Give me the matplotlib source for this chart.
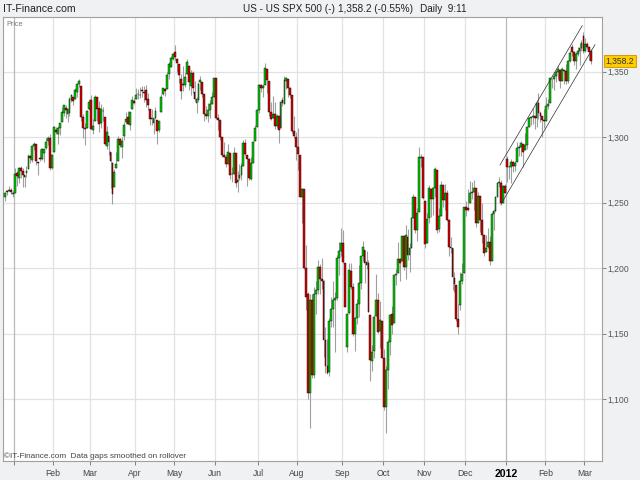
import matplotlib
matplotlib.use("Agg")
import matplotlib.pyplot as plt
import matplotlib.transforms as mtransforms
import numpy as np
import pandas as pd

# ---------------- data ----------------
holidays = ["2011-01-17", "2011-02-21", "2011-04-22", "2011-05-30", "2011-07-04",
            "2011-09-05", "2011-11-24", "2011-12-26", "2012-01-02", "2012-01-16",
            "2012-02-20"]
start_date = "2010-12-27"
end_date = "2012-03-06"

opens = [
    1254.7, 1259.1, 1258.8, 1259.4, 1256.8,
    1257.6, 1272.9, 1268.8, 1276.3, 1274.4, 1270.8, 1272.6, 1275.7, 1285.8, 1282.9, 1293.2, 1294.5, 1280.9, 1283.6, 1283.3, 1288.2, 1291.9, 1297.5, 1299.6, 1276.5,
    1289.1, 1305.9, 1302.8, 1307.0, 1311.9, 1318.8, 1322.5, 1318.1, 1318.7, 1328.7, 1330.4, 1329.5, 1334.4, 1340.4, 1338.9, 1315.4, 1307.1, 1307.3, 1321.6,
    1328.6, 1305.5, 1312.4, 1330.7, 1322.7, 1311.1, 1319.9, 1315.7, 1293.4, 1301.2, 1288.5, 1280.0, 1262.0, 1276.7, 1281.7, 1298.3, 1292.2, 1300.6, 1311.8, 1315.5, 1309.4, 1321.9, 1327.4,
    1329.5, 1332.7, 1332.0, 1335.9, 1334.8, 1336.2, 1329.0, 1321.9, 1314.0, 1311.1, 1314.5, 1313.3, 1305.4, 1319.1, 1333.2, 1337.1, 1336.8, 1348.4, 1353.9, 1360.1,
    1365.2, 1359.8, 1355.9, 1344.2, 1340.2, 1340.2, 1348.3, 1354.5, 1339.4, 1348.7, 1334.8, 1326.1, 1328.5, 1342.4, 1342.0, 1333.1, 1317.7, 1316.4, 1320.6, 1325.7, 1331.1,
    1345.2, 1314.6, 1312.9, 1300.3, 1286.3, 1284.6, 1279.6, 1288.3, 1271.6, 1272.2, 1287.9, 1265.5, 1268.6, 1271.5, 1278.4, 1295.5, 1286.6, 1283.0, 1268.4, 1280.2, 1296.9, 1307.6,
    1320.6, 1339.6, 1337.6, 1339.6, 1352.4, 1343.3, 1319.6, 1314.5, 1317.7, 1308.9, 1315.9, 1307.1, 1328.7, 1325.7, 1343.3, 1344.3, 1337.4, 1331.9, 1304.8, 1300.1,
    1292.6, 1286.6, 1254.3, 1260.2, 1200.3, 1180.0, 1104.5, 1176.0, 1118.5, 1180.0, 1183.0, 1201.0, 1192.0, 1190.0, 1145.0, 1125.0, 1121.0, 1160.0, 1169.0, 1176.0, 1177.0, 1208.0, 1213.0,
    1219.0, 1204.0, 1140.0, 1166.0, 1198.0, 1186.0, 1150.0, 1162.0, 1173.0, 1189.0, 1209.0, 1214.0, 1204.5, 1203.6, 1164.6, 1128.8, 1136.9, 1163.3, 1175.4, 1151.7, 1159.9,
    1131.2, 1094.0, 1122.0, 1144.0, 1165.0, 1158.0, 1194.6, 1196.2, 1206.9, 1205.7, 1224.5, 1200.8, 1223.5, 1209.9, 1215.4, 1238.7, 1254.2, 1229.2, 1243.0, 1284.4, 1284.9,
    1251.0, 1219.6, 1238.3, 1260.8, 1253.2, 1261.1, 1275.2, 1229.6, 1240.1, 1263.9, 1251.7, 1257.8, 1236.6, 1216.2, 1215.6, 1192.8, 1187.5, 1161.0, 1172.0, 1190.0, 1196.7,
    1246.9, 1246.0, 1249.8, 1257.2, 1258.1, 1260.9, 1234.5, 1255.1, 1236.8, 1225.7, 1212.1, 1216.1, 1219.7, 1205.7, 1241.3, 1243.7, 1254.0, 1265.0, 1265.4, 1249.8, 1262.8,
    1283.5, 1277.0, 1277.3, 1280.9, 1277.8, 1280.8, 1292.0, 1292.5, 1294.8, 1290.2, 1293.7, 1308.1, 1314.5, 1315.3, 1315.9, 1314.4, 1326.3, 1318.4, 1316.2, 1313.5,
    1312.5, 1324.2, 1326.2, 1344.3, 1344.3, 1347.0, 1350.0, 1351.2, 1343.1, 1351.3, 1350.5, 1342.6, 1358.1, 1369.0, 1365.0, 1358.0, 1363.5, 1366.0, 1368.0, 1377.0,
    1366.0, 1371.0, 1369.0, 1366.0,
]
highs = [
    1258.4, 1259.9, 1262.6, 1261.1, 1259.3,
    1276.2, 1274.1, 1277.6, 1278.2, 1276.8, 1271.5, 1277.8, 1286.9, 1286.7, 1293.2, 1296.1, 1294.6, 1281.0, 1291.2, 1291.9, 1291.3, 1299.7, 1301.3, 1302.7, 1287.2,
    1308.9, 1307.6, 1308.6, 1311.0, 1322.9, 1324.9, 1324.6, 1322.0, 1330.8, 1332.9, 1330.4, 1337.6, 1341.5, 1344.1, 1338.9, 1317.9, 1310.9, 1320.6, 1329.4,
    1332.1, 1314.2, 1332.3, 1331.1, 1327.7, 1325.7, 1323.2, 1315.7, 1308.4, 1301.2, 1288.5, 1280.9, 1276.1, 1288.9, 1300.6, 1299.4, 1300.5, 1311.3, 1319.2, 1319.7, 1319.5, 1331.7, 1329.8,
    1337.9, 1336.7, 1338.2, 1339.4, 1338.8, 1339.5, 1333.8, 1321.9, 1321.4, 1315.0, 1322.9, 1313.3, 1312.7, 1332.7, 1337.5, 1337.6, 1349.6, 1357.5, 1361.7, 1364.6,
    1370.6, 1360.8, 1355.9, 1348.0, 1354.4, 1349.4, 1359.4, 1354.5, 1351.1, 1350.5, 1343.3, 1330.4, 1341.8, 1346.8, 1342.0, 1333.1, 1323.7, 1325.9, 1328.5, 1334.6, 1345.2,
    1345.2, 1318.0, 1312.9, 1300.3, 1296.2, 1287.0, 1294.5, 1288.3, 1277.0, 1292.5, 1287.9, 1274.1, 1279.8, 1280.4, 1297.6, 1298.6, 1286.6, 1283.9, 1284.9, 1296.8, 1309.2, 1321.9,
    1341.0, 1340.9, 1340.9, 1356.5, 1352.4, 1343.3, 1327.2, 1331.5, 1326.7, 1317.7, 1315.9, 1328.1, 1330.4, 1347.0, 1346.1, 1344.3, 1338.5, 1331.9, 1316.3, 1304.2,
    1307.4, 1286.6, 1261.2, 1260.2, 1218.1, 1182.0, 1180.0, 1180.0, 1186.0, 1190.0, 1206.0, 1203.0, 1208.0, 1191.0, 1155.0, 1146.0, 1162.0, 1178.0, 1190.0, 1182.0, 1210.0, 1220.0, 1231.0,
    1229.3, 1204.0, 1166.0, 1204.0, 1204.0, 1189.0, 1163.0, 1176.4, 1202.3, 1209.1, 1220.6, 1214.0, 1213.4, 1206.3, 1164.6, 1141.7, 1164.2, 1195.9, 1180.9, 1175.3, 1160.0,
    1138.0, 1125.0, 1146.0, 1165.0, 1171.0, 1195.0, 1199.2, 1220.3, 1207.5, 1224.6, 1224.5, 1233.1, 1229.6, 1219.4, 1239.0, 1256.6, 1254.2, 1246.3, 1292.7, 1287.1, 1284.9,
    1251.0, 1242.5, 1263.2, 1260.8, 1261.7, 1277.6, 1275.2, 1246.2, 1266.9, 1263.9, 1264.3, 1259.6, 1237.7, 1223.5, 1215.6, 1196.8, 1187.5, 1172.7, 1197.4, 1203.7, 1247.1,
    1251.1, 1260.1, 1266.7, 1266.0, 1267.1, 1260.9, 1258.3, 1255.1, 1249.9, 1225.7, 1225.6, 1231.0, 1224.6, 1242.8, 1245.1, 1255.2, 1265.4, 1269.4, 1267.2, 1263.5, 1264.1,
    1285.5, 1278.7, 1283.1, 1281.8, 1281.9, 1296.5, 1293.8, 1296.8, 1294.8, 1303.0, 1308.1, 1315.5, 1315.4, 1322.3, 1315.9, 1328.3, 1333.5, 1320.1, 1316.2, 1321.4,
    1330.5, 1329.2, 1345.3, 1344.4, 1349.2, 1351.0, 1354.3, 1351.2, 1353.4, 1351.3, 1355.9, 1359.0, 1366.0, 1371.0, 1366.0, 1365.0, 1369.0, 1372.0, 1374.0, 1380.0,
    1376.0, 1373.0, 1370.0, 1367.0,
]
lows = [
    1251.5, 1256.2, 1258.8, 1256.3, 1254.2,
    1257.6, 1262.7, 1265.4, 1268.7, 1261.7, 1262.2, 1269.6, 1275.7, 1280.5, 1281.1, 1290.2, 1278.9, 1271.3, 1282.1, 1282.5, 1281.1, 1291.0, 1294.4, 1275.1, 1276.0,
    1289.1, 1302.6, 1294.8, 1301.7, 1311.9, 1316.0, 1314.9, 1311.7, 1316.1, 1326.9, 1324.6, 1329.5, 1331.0, 1338.1, 1312.3, 1299.6, 1294.3, 1307.3, 1320.6,
    1306.1, 1302.6, 1312.4, 1312.6, 1303.9, 1306.9, 1312.3, 1294.2, 1291.0, 1286.4, 1261.1, 1249.1, 1262.0, 1276.2, 1281.7, 1292.7, 1284.1, 1297.7, 1310.2, 1310.2, 1305.3, 1321.9, 1325.0,
    1328.9, 1329.1, 1330.0, 1330.7, 1326.6, 1322.9, 1321.1, 1309.5, 1309.2, 1302.8, 1313.7, 1294.7, 1303.9, 1319.1, 1332.0, 1331.7, 1336.8, 1344.3, 1353.6, 1358.7,
    1358.6, 1349.5, 1341.5, 1329.2, 1335.6, 1338.6, 1348.3, 1336.4, 1332.0, 1333.4, 1327.3, 1318.5, 1326.6, 1336.4, 1330.7, 1312.6, 1313.9, 1311.8, 1314.4, 1325.7, 1331.1,
    1313.7, 1305.6, 1297.9, 1284.9, 1284.7, 1277.4, 1279.6, 1268.3, 1265.6, 1272.2, 1261.9, 1258.1, 1267.4, 1267.6, 1278.4, 1286.8, 1262.9, 1267.2, 1267.5, 1280.2, 1296.9, 1307.6,
    1318.2, 1334.3, 1330.9, 1339.6, 1333.7, 1316.4, 1313.3, 1314.5, 1306.5, 1307.4, 1295.9, 1307.1, 1323.7, 1325.7, 1336.9, 1331.1, 1329.6, 1303.5, 1299.2, 1282.9,
    1274.7, 1254.0, 1234.6, 1199.5, 1168.1, 1100.0, 1078.0, 1116.0, 1116.0, 1165.0, 1180.0, 1180.0, 1184.0, 1132.0, 1120.0, 1119.0, 1118.0, 1155.0, 1155.0, 1136.0, 1176.0, 1195.0, 1209.0,
    1203.9, 1170.0, 1136.0, 1165.0, 1184.0, 1148.0, 1137.0, 1157.1, 1162.4, 1183.8, 1205.4, 1188.4, 1199.4, 1166.7, 1114.2, 1121.4, 1131.1, 1163.3, 1150.3, 1139.2, 1131.1,
    1092.0, 1074.0, 1108.0, 1134.0, 1150.0, 1158.0, 1187.3, 1196.2, 1190.6, 1205.7, 1198.6, 1191.5, 1206.3, 1197.3, 1215.4, 1238.7, 1226.6, 1221.1, 1243.0, 1277.0, 1253.2,
    1215.4, 1219.6, 1234.8, 1238.9, 1240.8, 1254.2, 1226.6, 1227.7, 1240.1, 1246.7, 1244.3, 1235.7, 1209.4, 1211.4, 1183.2, 1181.7, 1160.0, 1150.0, 1168.0, 1188.0, 1196.7,
    1239.7, 1243.4, 1249.8, 1253.0, 1244.8, 1231.5, 1234.5, 1227.3, 1219.4, 1209.5, 1212.1, 1215.2, 1202.4, 1205.7, 1229.5, 1243.1, 1254.0, 1262.3, 1248.6, 1249.8, 1257.5,
    1266.0, 1268.1, 1265.3, 1273.3, 1274.6, 1280.8, 1285.4, 1285.8, 1277.6, 1290.2, 1290.9, 1308.1, 1309.2, 1309.9, 1306.1, 1307.7, 1313.6, 1311.7, 1300.5, 1306.7,
    1312.5, 1321.6, 1326.2, 1337.5, 1335.9, 1341.9, 1344.6, 1337.4, 1343.1, 1340.8, 1340.8, 1341.2, 1357.2, 1362.0, 1355.0, 1352.0, 1362.0, 1355.0, 1366.0, 1364.0,
    1365.0, 1367.0, 1359.0, 1356.0,
]
closes = [
    1257.5, 1258.5, 1259.8, 1257.9, 1257.6,
    1271.9, 1270.2, 1276.6, 1273.9, 1271.5, 1269.8, 1274.5, 1286.0, 1283.8, 1293.2, 1295.0, 1281.9, 1280.3, 1283.4, 1290.8, 1291.2, 1296.6, 1299.5, 1276.3, 1286.1,
    1307.6, 1304.0, 1307.1, 1310.9, 1319.1, 1324.6, 1320.9, 1321.9, 1329.2, 1332.3, 1328.0, 1336.3, 1340.4, 1343.0, 1315.4, 1307.4, 1306.1, 1319.9, 1327.2,
    1306.3, 1308.4, 1331.0, 1321.2, 1310.1, 1321.8, 1320.0, 1295.1, 1304.3, 1296.4, 1281.9, 1256.9, 1273.7, 1279.2, 1298.4, 1293.8, 1297.5, 1309.7, 1313.8, 1310.2, 1319.4, 1328.3, 1325.8,
    1332.4, 1332.9, 1332.6, 1335.5, 1333.5, 1328.2, 1324.5, 1314.2, 1314.4, 1314.5, 1319.7, 1305.1, 1312.6, 1330.4, 1337.4, 1335.3, 1347.2, 1355.7, 1360.5, 1363.6,
    1361.2, 1356.6, 1347.3, 1335.1, 1340.2, 1346.3, 1357.2, 1342.1, 1348.7, 1337.8, 1329.5, 1329.0, 1340.7, 1343.6, 1333.3, 1317.4, 1316.3, 1320.5, 1325.7, 1331.1, 1345.2,
    1314.6, 1312.9, 1300.2, 1286.2, 1284.9, 1279.6, 1289.0, 1271.0, 1271.8, 1287.9, 1265.4, 1267.6, 1271.5, 1278.4, 1295.5, 1287.1, 1283.5, 1268.5, 1280.1, 1296.7, 1307.4, 1320.6,
    1339.7, 1337.9, 1339.2, 1353.2, 1343.8, 1319.5, 1313.6, 1317.7, 1308.9, 1316.1, 1305.4, 1326.7, 1325.8, 1343.8, 1345.0, 1337.4, 1331.9, 1304.9, 1300.7, 1292.3,
    1286.9, 1254.1, 1260.3, 1200.1, 1178.0, 1104.5, 1176.0, 1118.5, 1180.0, 1183.0, 1201.0, 1192.0, 1190.0, 1145.0, 1125.0, 1120.0, 1160.0, 1169.0, 1176.0, 1177.0, 1208.0, 1213.0, 1219.0,
    1204.4, 1170.0, 1165.2, 1198.6, 1185.9, 1150.0, 1162.3, 1172.9, 1188.7, 1209.1, 1216.0, 1204.1, 1202.1, 1166.8, 1129.6, 1136.4, 1163.0, 1175.4, 1151.1, 1160.4, 1131.4,
    1094.0, 1122.0, 1144.0, 1164.0, 1157.0, 1194.9, 1195.5, 1207.3, 1203.7, 1224.6, 1200.9, 1225.4, 1209.9, 1215.4, 1238.3, 1254.2, 1229.1, 1242.0, 1284.6, 1285.1, 1253.3,
    1218.3, 1237.9, 1261.2, 1253.2, 1261.1, 1275.9, 1229.1, 1239.7, 1263.9, 1251.8, 1257.8, 1236.9, 1216.1, 1215.7, 1193.0, 1188.0, 1161.0, 1155.0, 1190.0, 1195.2, 1247.0,
    1244.6, 1244.3, 1257.1, 1258.5, 1261.0, 1234.4, 1255.2, 1236.5, 1225.7, 1211.8, 1215.8, 1219.7, 1205.4, 1241.3, 1243.7, 1254.0, 1265.3, 1265.4, 1249.6, 1263.0, 1257.6,
    1277.5, 1277.3, 1281.1, 1277.8, 1280.7, 1292.1, 1292.5, 1295.5, 1289.1, 1293.7, 1308.0, 1314.5, 1315.4, 1316.0, 1314.7, 1326.1, 1318.4, 1316.3, 1313.0, 1312.4,
    1324.1, 1325.5, 1344.9, 1344.3, 1347.1, 1350.0, 1352.0, 1342.6, 1351.8, 1350.5, 1343.2, 1358.0, 1364.0, 1365.0, 1358.0, 1363.5, 1366.0, 1368.0, 1372.0, 1366.0,
    1371.0, 1369.0, 1365.0, 1358.2,
]

# trend channel anchor points (bar index, price)
channel_upper = [(253.3, 1278.8), (295.4, 1385.2)]
channel_lower = [(253.8, 1248.9), (301.9, 1370.7)]

y_ticks = [1100, 1150, 1200, 1250, 1300, 1350]
last_price = 1358.2
title_left = "IT-Finance.com"
title_parts = ["US - US SPX 500 (-)", "1,358.2 (-0.55%)", "Daily  9:11"]
month_names = ["", "Feb", "Mar", "Apr", "May", "Jun", "Jul", "Aug", "Sep", "Oct",
               "Nov", "Dec", "2012", "Feb", "Mar"]

# ---------------- build ----------------
dates = pd.bdate_range(start_date, end_date, freq="C", holidays=holidays)
o = np.array(opens); h = np.array(highs); l = np.array(lows); c = np.array(closes)
assert len(dates) == len(o) == len(h) == len(l) == len(c)
idx = np.arange(len(dates))

per = dates.to_period("M")
first_idx = [i for i in range(1, len(dates)) if per[i] != per[i - 1]]
month_pos = [i - 0.5 for i in first_idx]

BG = "#f0f1f3"
plt.rcParams["font.family"] = ["Liberation Sans", "DejaVu Sans"]
fig = plt.figure(figsize=(6.4, 4.8), dpi=100, facecolor=BG)

ax = fig.add_axes([3 / 640, 19 / 480, 599 / 640, 444 / 480])
ax.set_facecolor("white")
ax.set_xlim(-1.02, 305.5)
ax.set_ylim(1052.8, 1391.8)

for yv in y_ticks:
    ax.axhline(yv, color="#e2e2e2", lw=0.9, zorder=0)
for pos, name in zip(month_pos, month_names):
    year_line = name in ("", "2012")
    ax.axvline(pos, color="#b9b9b9" if year_line else "#e2e2e2", lw=0.9, zorder=0)

up = c >= o
ax.vlines(idx, l, h, color="#a0a0a0", lw=0.8, zorder=2)
bottom = np.minimum(o, c)
height = np.maximum(np.abs(c - o), 0.5)
ax.bar(idx[up], height[up], bottom=bottom[up], width=0.95, color="#00d200",
       edgecolor="black", linewidth=0.3, zorder=3)
ax.bar(idx[~up], height[~up], bottom=bottom[~up], width=0.95, color="#e00000",
       edgecolor="black", linewidth=0.3, zorder=3)

for line in (channel_upper, channel_lower):
    xs, ys = zip(*line)
    ax.plot(xs, ys, color="#303030", lw=0.5, zorder=4)

for sp in ax.spines.values():
    sp.set_color("#a0a0a0")
    sp.set_linewidth(0.8)
ax.yaxis.tick_right()
ax.set_yticks(y_ticks)
ax.set_yticklabels([f"{v:,}" for v in y_ticks])
ax.tick_params(axis="y", direction="out", length=3, width=0.7, color="#808080",
               labelsize=6.2, labelcolor="#555555", pad=1)
ax.set_xticks(month_pos)
ax.set_xticklabels(month_names)
ax.tick_params(axis="x", direction="out", length=3, width=0.7, color="#808080",
               labelsize=6.2, labelcolor="#444444", pad=3)
for lab in ax.get_xticklabels():
    if lab.get_text() == "2012":
        lab.set_fontweight("bold")
        lab.set_fontsize(7.6)
        lab.set_color("black")

trans = mtransforms.blended_transform_factory(ax.transAxes, ax.transData)
ax.text(1.006, last_price, f"{last_price:,.1f}", transform=trans, fontsize=6.2,
        va="center", ha="left", color="#333333",
        bbox=dict(boxstyle="square,pad=0.18", fc="#ffcc00", ec="#c89000", lw=0.6),
        zorder=6, clip_on=False)

def ftxt(xp, yp, s, **kw):
    fig.text(xp / 640, 1 - yp / 480, s, va="center", ha="left", **kw)

ftxt(3, 9, title_left, fontsize=7.6, color="#222222")
ftxt(243, 9, title_parts[0], fontsize=7.2, color="#222222")
ftxt(338, 9, title_parts[1], fontsize=7.2, color="#222222")
ftxt(420, 9, title_parts[2], fontsize=7.2, color="#222222")
ftxt(6, 24, "Price", fontsize=5.2, color="#777777")
ftxt(4, 456, "\u00a9IT-Finance.com  Data gaps smoothed on rollover", fontsize=5.9,
     color="#444444")

fig.savefig("out.png", dpi=100, facecolor=BG)
